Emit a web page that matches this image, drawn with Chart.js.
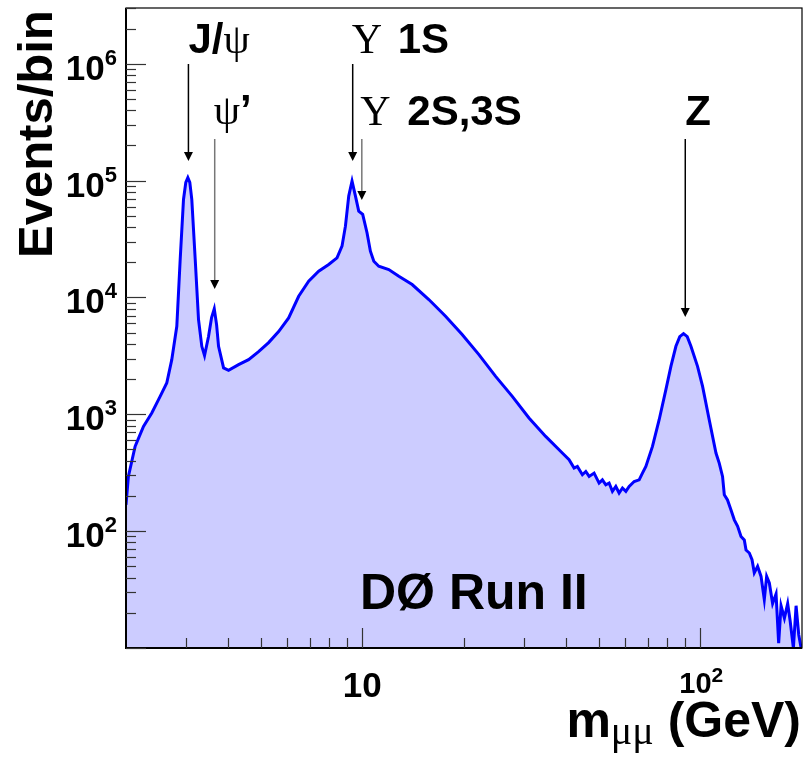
<!DOCTYPE html>
<html><head><meta charset="utf-8">
<script src="https://cdn.jsdelivr.net/npm/chart.js@4.4.0/dist/chart.umd.min.js"></script>
<style>html,body{margin:0;padding:0;background:#fff;}canvas{display:block;}</style>
</head><body>
<canvas id="c" width="806" height="763"></canvas>
<script>
// Dimuon invariant mass (GeV), bin centres
const massGeV = [2.0,2.033,2.128,2.253,2.384,2.524,2.640,2.732,2.827,2.893,2.959,3.006,3.048,3.089,3.131,3.205,3.278,3.352,3.415,3.510,3.583,3.649,3.707,3.757,3.888,4.022,4.306,4.610,4.935,5.284,5.657,6.057,6.485,6.942,7.432,7.957,8.420,8.712,8.917,9.120,9.328,9.548,9.763,10.03,10.33,10.57,10.82,11.19,11.98,12.83,14.05,15.74,17.64,19.75,22.14,24.81,27.79,31.14,34.89,39.08,40.92,42.34,43.30,44.80,45.85,46.91,48.52,50.20,51.34,52.55,53.75,54.97,56.26,57.54,58.86,60.25,61.61,63.75,65.96,67.45,69.04,72.22,75.59,79.13,81.88,84.72,86.97,89.23,91.52,93.85,98.17,101.6,106.3,111.3,113.8,116.4,117.8,120.4,123.3,126.1,129.0,132.0,135.0,136.6,139.7,142.3,144.5,147.8,151.3,154.7,157.2,160.1,163.7,167.6,170.6,173.4,177.4,181.4,184.5,188.6,192.1,195.6,198.8];
// Events per bin
const eventsPerBin = [168,294,531,788,1026,1424,1855,2937,5664,21130,69010,96510,105900,96510,69010,21130,6465,3818,3178,4650,6726,7985,5857,3818,2493,2378,2661,2937,3439,4107,5104,6686,10240,13760,16770,19130,21840,27460,40750,73680,99010,73680,54760,51330,35770,24880,20430,18510,17340,15190,12900,9594,6901,4810,3241,2113,1424,930,647,466,408,347,358,304,324,294,314,258,275,249,258,219,241,212,234,219,241,266,275,314,358,531,899,1625,2573,3818,4624,4906,4624,3818,2573,1734,899,466,382,294,205,185,152,125,110,90,84,69,65,57,44,50,41,26,41,36,24,29,11,23,18,24,17,10,23,13,10];

// Axis ranges and tick labels
const xRange = [2, 200];
const yRange = [10, 3e6];
const xTickValues = [10, 100];
const xTickBase = ["10", "10"];
const xTickExp = ["", "2"];
const yTickValues = [1e2, 1e3, 1e4, 1e5, 1e6];
const yTickExp = ["2", "3", "4", "5", "6"];

// Resonance annotations
const peakNames = ["J/ψ", "ψ'", "Υ 1S", "Υ 2S,3S", "Z"];
const peakMasses = [3.06, 3.66, 9.37, 9.97, 90.3];

const SANS = '"Liberation Sans", Arial, Helvetica, sans-serif';
const SERIF = '"Liberation Serif", "Times New Roman", serif';

function drawParts(ctx, x, y, parts) {
  for (const p of parts) {
    ctx.font = p.font;
    ctx.fillText(p.text, x + (p.dx || 0), y + (p.dy || 0));
    x += ctx.measureText(p.text).width + (p.dx || 0);
  }
  return x;
}
function partsWidth(ctx, parts) {
  let w = 0;
  for (const p of parts) { ctx.font = p.font; w += ctx.measureText(p.text).width + (p.dx || 0); }
  return w;
}
function arrow(ctx, x, y0, y1, color) {
  ctx.save();
  ctx.strokeStyle = color; ctx.fillStyle = '#000';
  ctx.lineWidth = 1.5;
  ctx.beginPath(); ctx.moveTo(x, y0); ctx.lineTo(x, y1 - 8); ctx.stroke();
  ctx.beginPath(); ctx.moveTo(x - 4.5, y1 - 9); ctx.lineTo(x + 4.5, y1 - 9); ctx.lineTo(x, y1); ctx.closePath(); ctx.fill();
  ctx.restore();
}

const decor = {
  id: 'decor',
  afterDraw(chart) {
    const ctx = chart.ctx, a = chart.chartArea;
    const xs = chart.scales.x, ys = chart.scales.y;
    ctx.save();
    // frame
    ctx.strokeStyle = '#000';
    ctx.lineWidth = 1.2;
    ctx.strokeRect(a.left, a.top, a.right - a.left, a.bottom - a.top);
    ctx.lineWidth = 2;
    ctx.beginPath(); ctx.moveTo(a.left, a.top); ctx.lineTo(a.left, a.bottom); ctx.lineTo(a.right, a.bottom); ctx.stroke();

    // y ticks
    ctx.strokeStyle = '#333'; ctx.lineWidth = 1.2;
    for (let e = 1; e <= 6; e++) {
      for (let k = 1; k <= 9; k++) {
        const v = k * Math.pow(10, e);
        if (v < yRange[0] || v > yRange[1]) continue;
        const py = Math.round(ys.getPixelForValue(v)) + 0.5;
        const len = k === 1 ? 20 : 10;
        ctx.beginPath(); ctx.moveTo(a.left, py); ctx.lineTo(a.left + len, py); ctx.stroke();
      }
    }
    // x ticks
    for (let e = 0; e <= 2; e++) {
      for (let k = 1; k <= 9; k++) {
        const v = k * Math.pow(10, e);
        if (v <= xRange[0] || v >= xRange[1]) continue;
        const px = Math.round(xs.getPixelForValue(v)) + 0.5;
        const len = k === 1 ? 20 : 10;
        ctx.beginPath(); ctx.moveTo(px, a.bottom); ctx.lineTo(px, a.bottom - len); ctx.stroke();
      }
    }

    ctx.fillStyle = '#000';
    ctx.textAlign = 'left'; ctx.textBaseline = 'alphabetic';
    // y tick labels
    yTickValues.forEach((v, i) => {
      const py = ys.getPixelForValue(v);
      const parts = [
        {text: '10', font: 'bold 35px ' + SANS, dy: 16},
        {text: yTickExp[i], font: 'bold 22px ' + SANS, dy: 1}
      ];
      const w = partsWidth(ctx, parts);
      drawParts(ctx, 117 - w, py, parts);
    });
    // x tick labels
    xTickValues.forEach((v, i) => {
      const px = xs.getPixelForValue(v);
      let parts;
      if (xTickExp[i]) {
        parts = [
          {text: xTickBase[i], font: 'bold 29px ' + SANS, dy: 693 - 648},
          {text: xTickExp[i], font: 'bold 21px ' + SANS, dy: 682 - 648}
        ];
      } else {
        parts = [{text: xTickBase[i], font: 'bold 35px ' + SANS, dy: 697 - 648}];
      }
      const w = partsWidth(ctx, parts);
      drawParts(ctx, px - w / 2 + (xTickExp[i] ? 1 : 0), a.bottom, parts);
    });

    // axis titles
    const xt = [
      {text: 'm', font: 'bold 50px ' + SANS},
      {text: 'μμ', font: '40px ' + SERIF, dy: 7},
      {text: ' (GeV)', font: 'bold 50px ' + SANS}
    ];
    drawParts(ctx, 801 - partsWidth(ctx, xt), 737, xt);

    ctx.save();
    ctx.translate(52, 258);
    ctx.rotate(-Math.PI / 2);
    ctx.font = 'bold 49px ' + SANS;
    ctx.fillText('Events/bin', 0, 0);
    ctx.restore();

    // annotations
    const ax = peakMasses.map(m => xs.getPixelForValue(m));
    const B = 'bold 42px ' + SANS, G = '42px ' + SERIF;
    drawParts(ctx, ax[0], 53, [{text: 'J/', font: B}, {text: 'ψ', font: G}]);
    drawParts(ctx, ax[1] - 1, 124, [{text: 'ψ', font: G}, {text: '\u2019', font: B}]);
    drawParts(ctx, ax[2] - 1, 53, [{text: 'Υ', font: G}, {text: ' 1S', font: B, dx: 4}]);
    drawParts(ctx, ax[3] - 1.5, 125, [{text: 'Υ', font: G}, {text: ' 2S,3S', font: B, dx: 5}]);
    drawParts(ctx, ax[4], 125, [{text: 'Z', font: B}]);
    arrow(ctx, ax[0], 64, 161, '#000');
    arrow(ctx, ax[1], 139, 289, '#777');
    arrow(ctx, ax[2], 64, 161, '#000');
    arrow(ctx, ax[3], 139, 200, '#777');
    arrow(ctx, ax[4], 139, 317, '#000');

    // experiment label
    ctx.font = 'bold 50px ' + SANS;
    ctx.fillText('DØ Run II', 360, 609);
    ctx.restore();
  }
};

new Chart(document.getElementById('c'), {
  type: 'line',
  data: {
    datasets: [{
      data: massGeV.map((m, i) => ({x: m, y: eventsPerBin[i]})),
      borderColor: '#0000ff',
      backgroundColor: '#ccccff',
      fill: 'start',
      borderWidth: 3,
      pointRadius: 0,
      tension: 0
    }]
  },
  options: {
    responsive: false,
    animation: false,
    events: [],
    layout: {padding: {left: 126, right: 4, top: 8, bottom: 115}},
    scales: {
      x: {type: 'logarithmic', min: xRange[0], max: xRange[1], display: false},
      y: {type: 'logarithmic', min: yRange[0], max: yRange[1], display: false}
    },
    plugins: {legend: {display: false}, tooltip: {enabled: false}}
  },
  plugins: [decor]
});
</script>
</body></html>
